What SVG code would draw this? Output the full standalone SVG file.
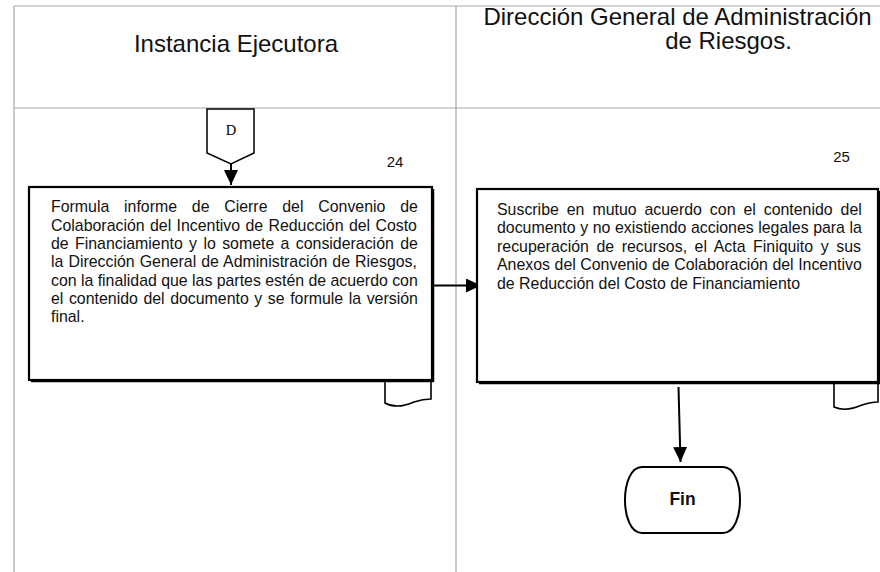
<svg xmlns="http://www.w3.org/2000/svg" width="880" height="572" viewBox="0 0 880 572">
<style>
.lane{stroke:#a6a6a6;stroke-width:1.2;fill:none}
.hdr{font-family:"Liberation Sans",Arial,sans-serif;font-size:24px;fill:#111}
.body{font-family:"Liberation Sans",Arial,sans-serif;font-size:15.9px;fill:#111}
.num{font-family:"Liberation Sans",Arial,sans-serif;font-size:15px;fill:#111;text-anchor:middle}
.box{fill:#fff;stroke:#000;stroke-width:2.2}
.shadow{fill:none;stroke:#000;stroke-width:1.5}
.tab{fill:#fff;stroke:#000;stroke-width:1.6}
.conn{stroke:#000;stroke-width:2;fill:none}
</style>
<defs>
<marker id="ah" markerUnits="userSpaceOnUse" markerWidth="15" markerHeight="14" viewBox="0 0 15 14" refX="15" refY="7" orient="auto">
<path d="M0,0 L15,7 L0,14 Z" fill="#000"/>
</marker>
</defs>
<rect width="880" height="572" fill="#fff"/>
<g id="lanes">
<line class="lane" x1="14" y1="6" x2="880" y2="6"/>
<line class="lane" x1="14" y1="108" x2="880" y2="108"/>
<line class="lane" x1="14" y1="6" x2="14" y2="572"/>
<line class="lane" x1="456" y1="6" x2="456" y2="572"/>
<text class="hdr" x="236" y="51.7" text-anchor="middle">Instancia Ejecutora</text>
<text class="hdr" x="677.5" y="25" text-anchor="middle">Dirección General de Administración</text>
<text class="hdr" x="728.5" y="49.3" text-anchor="middle">de Riesgos.</text>
</g>
<g id="connectors">
<line class="conn" x1="231" y1="164" x2="231" y2="185" marker-end="url(#ah)"/>
<line class="conn" x1="432" y1="285.5" x2="481" y2="285.5" marker-end="url(#ah)"/>
<line class="conn" x1="678.5" y1="387" x2="680.5" y2="462" marker-end="url(#ah)"/>
</g>
<g id="connector-D">
<path d="M207,109 H254 V153 L231,164 L207,153 Z" fill="#fff" stroke="#000" stroke-width="1.5"/>
<text x="231" y="135" text-anchor="middle" font-family="Liberation Serif,Times New Roman,serif" font-size="14.5" fill="#000">D</text>
</g>
<g id="step24">
<text class="num" x="395" y="167">24</text>
<path class="tab" d="M385,381 V403 C394,408 405,406 414,402 C420,400 425,399 431,399 V381"/>
<path class="shadow" d="M31,381.5 H433.5 V189"/>
<rect class="box" x="29" y="187" width="403" height="193"/>
<g class="body">
<text x="51" y="212.3" word-spacing="10.35">Formula informe de Cierre del Convenio de</text>
<text x="51" y="230.6" word-spacing="0.92">Colaboración del Incentivo de Reducción del Costo</text>
<text x="51" y="248.9" word-spacing="1.93">de Financiamiento y lo somete a consideración de</text>
<text x="51" y="267.2" word-spacing="0.63">la Dirección General de Administración de Riesgos,</text>
<text x="51" y="285.5" word-spacing="-0.08">con la finalidad que las partes estén de acuerdo con</text>
<text x="51" y="303.8" word-spacing="1.14">el contenido del documento y se formule la versión</text>
<text x="51" y="322.1">final.</text>
</g>
</g>
<g id="step25">
<text class="num" x="841.5" y="162.3">25</text>
<path class="tab" d="M834,383 V407 C843,411 853,409 862,405 C868,403 873,402 878,402 V383"/>
<path class="shadow" d="M479,383.5 H879.3 V191"/>
<rect class="box" x="477" y="189" width="401" height="193"/>
<g class="body">
<text x="497" y="215" word-spacing="3.53">Suscribe en mutuo acuerdo con el contenido del</text>
<text x="497" y="233.4" word-spacing="0.13">documento y no existiendo acciones legales para la</text>
<text x="497" y="251.8" word-spacing="3.16">recuperación de recursos, el Acta Finiquito y sus</text>
<text x="497" y="270.2" word-spacing="0.13">Anexos del Convenio de Colaboración del Incentivo</text>
<text x="497" y="288.6">de Reducción del Costo de Financiamiento</text>
</g>
</g>
<g id="fin">
<path d="M642,467 H723 C735,467 740,485 740,500 C740,515 735,533 723,533 H642 C630,533 625,515 625,500 C625,485 630,467 642,467 Z" fill="#fff" stroke="#000" stroke-width="2"/>
<text x="682.5" y="505" text-anchor="middle" font-family="Liberation Sans,Arial,sans-serif" font-size="17.5" font-weight="bold" fill="#111">Fin</text>
</g>
</svg>
